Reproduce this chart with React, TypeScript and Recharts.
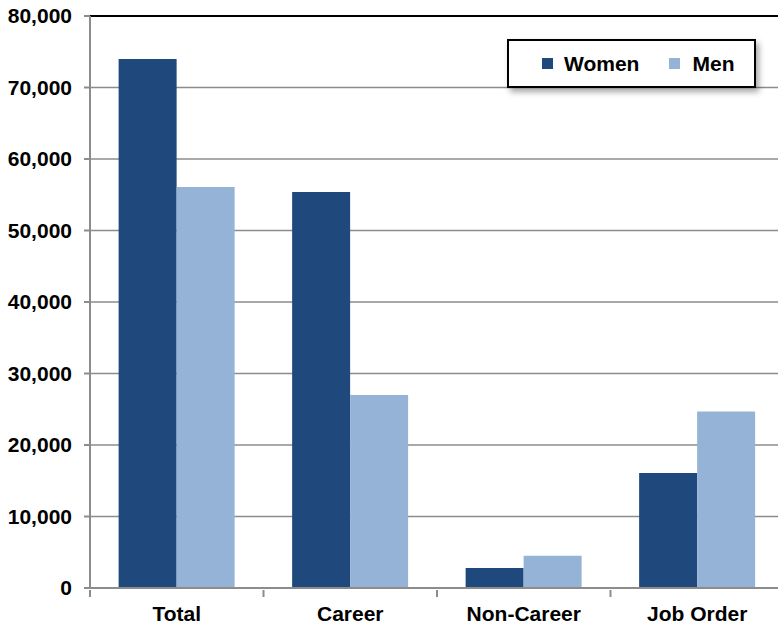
import { BarChart, Bar, XAxis, YAxis, CartesianGrid, ReferenceLine } from 'recharts'

const categories = ['Total', 'Career', 'Non-Career', 'Job Order']
const women = [74000, 55400, 2800, 16100]
const men = [56100, 27000, 4500, 24700]
const yTicks = [0, 10000, 20000, 30000, 40000, 50000, 60000, 70000, 80000]

const data = categories.map((name, i) => ({ name, Women: women[i], Men: men[i] }))

const WOMEN_COLOR = '#1F497D'
const MEN_COLOR = '#95B3D7'
const font = 'Arial, "Liberation Sans", sans-serif'

const CHART_W = 784
const Y_W = 90
const bandHalf = (CHART_W - Y_W) / categories.length / 2

function CategoryTick(props: any) {
  const { x, y, payload } = props
  return (
    <g>
      <line x1={x - bandHalf} x2={x - bandHalf} y1={y - 12} y2={y - 5} stroke="#8c8c8c" strokeWidth={2} />
      <text x={x} y={y + 19} textAnchor="middle" fontSize={21} fontWeight="bold" fill="#000" fontFamily={font}>
        {payload.value}
      </text>
    </g>
  )
}

function LegendBox() {
  return (
    <div
      style={{
        position: 'absolute',
        left: 507,
        top: 39,
        width: 245,
        height: 45,
        border: '2px solid #000',
        background: '#fff',
        boxShadow: '3px 4px 6px rgba(0,0,0,0.35)',
        display: 'flex',
        alignItems: 'center',
        fontFamily: font,
        fontWeight: 'bold',
        fontSize: 21,
        color: '#000',
      }}
    >
      <span style={{ width: 11, height: 11, background: WOMEN_COLOR, marginLeft: 33, marginRight: 11 }} />
      <span>Women</span>
      <span style={{ width: 11, height: 11, background: MEN_COLOR, marginLeft: 30, marginRight: 12 }} />
      <span>Men</span>
    </div>
  )
}

export default function App() {
  return (
    <div style={{ position: 'absolute', left: 0, top: 0, width: 778, height: 624, overflow: 'hidden', background: '#fff' }}>
      <BarChart
        width={CHART_W}
        height={624}
        data={data}
        margin={{ top: 16, right: 0, left: 0, bottom: 0 }}
        barCategoryGap="16.5%"
        barGap={0}
      >
        <CartesianGrid vertical={false} stroke="#8c8c8c" strokeWidth={1.5} />
        <XAxis
          dataKey="name"
          height={36}
          interval={0}
          tick={<CategoryTick />}
          axisLine={{ stroke: '#8c8c8c', strokeWidth: 2 }}
          tickLine={false}
          tickMargin={8}
        />
        <YAxis
          width={Y_W}
          domain={[0, 80000]}
          ticks={yTicks}
          interval={0}
          tick={{ fontSize: 21, fontWeight: 'bold', fill: '#000', fontFamily: font }}
          tickFormatter={(v) => Number(v).toLocaleString('en-US')}
          axisLine={{ stroke: '#8c8c8c', strokeWidth: 2 }}
          tickLine={{ stroke: '#8c8c8c', strokeWidth: 2 }}
          tickSize={6}
          tickMargin={12}
        />
        <ReferenceLine y={80000} stroke="#000" strokeWidth={2} />
        <Bar dataKey="Women" fill={WOMEN_COLOR} isAnimationActive={false} />
        <Bar dataKey="Men" fill={MEN_COLOR} isAnimationActive={false} />
      </BarChart>
      <LegendBox />
    </div>
  )
}
